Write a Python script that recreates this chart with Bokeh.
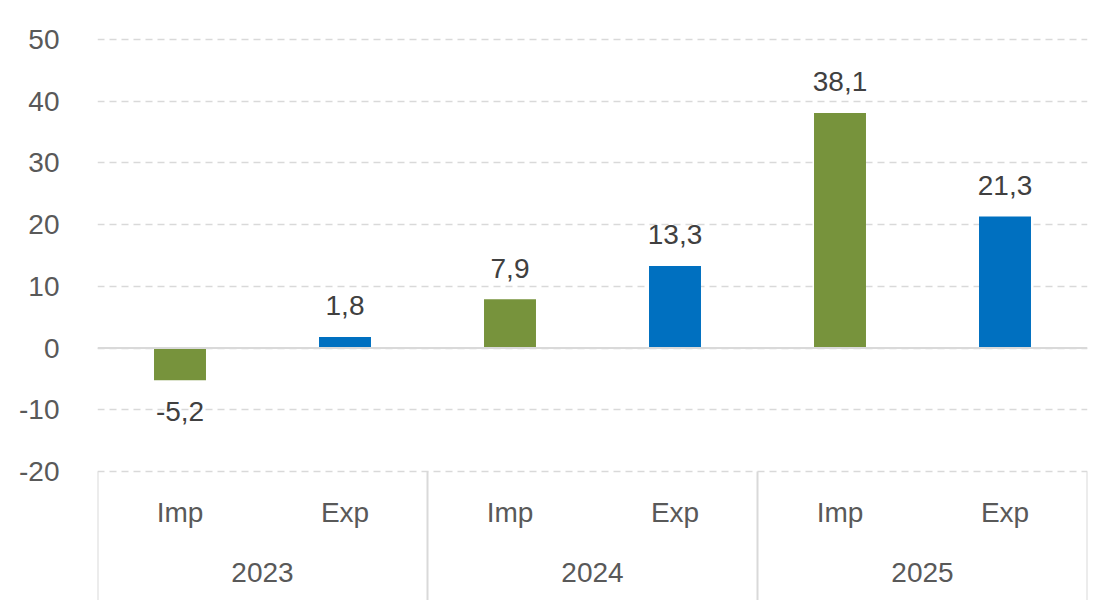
from bokeh.plotting import figure
from bokeh.models import FactorRange, Range1d, FixedTicker, Span, ColumnDataSource
from bokeh.embed import file_html
from bokeh.resources import INLINE
from bokeh.core.properties import value

years = ["2023", "2024", "2025"]
flows = ["Imp", "Exp"]
values = [-5.2, 1.8, 7.9, 13.3, 38.1, 21.3]
bar_colors = {"Imp": "#77933C", "Exp": "#0070C0"}
y_ticks = [-20, -10, 0, 10, 20, 30, 40, 50]

FONT = "Liberation Sans"
FS = "28px"

factors = [(y, f) for y in years for f in flows]
labels = [("%.1f" % v).replace(".", ",") for v in values]

src = ColumnDataSource(dict(
    x=factors,
    top=values,
    color=[bar_colors[f] for (_, f) in factors],
    label=labels,
))

scale = (471 - 39) / 70.0
y_end = 50 + 39 / scale
y_start = -20 - 129 / scale

p = figure(
    width=1111, height=600,
    x_range=FactorRange(*factors, group_padding=0, subgroup_padding=0, factor_padding=0, range_padding=0),
    y_range=Range1d(y_start, y_end),
    output_backend="svg", toolbar_location=None,
    min_border=0, min_border_left=97, min_border_right=24,
)
p.outline_line_color = None
p.background_fill_color = None
p.border_fill_color = "white"

p.xaxis.visible = False
p.xgrid.visible = False

yax = p.yaxis[0]
yax.ticker = FixedTicker(ticks=y_ticks)
yax.major_label_overrides = {t: str(t) for t in y_ticks}
yax.axis_line_color = None
yax.major_tick_line_color = None
yax.minor_tick_line_color = None
yax.major_label_standoff = 32
yax.major_label_text_font = FONT
yax.major_label_text_font_size = FS
yax.major_label_text_color = "#595959"

p.ygrid.ticker = FixedTicker(ticks=y_ticks)
p.ygrid.grid_line_color = "#d9d9d9"
p.ygrid.grid_line_width = 1.5
p.ygrid.grid_line_dash = "7 5"

p.add_layout(Span(location=0, dimension="width", line_color="#d9d9d9", line_width=2))

p.vbar(x="x", top="top", bottom=0, width=0.315, fill_color="color", line_color=None, source=src)

pos = ColumnDataSource(dict(x=[f for f, v in zip(factors, values) if v >= 0],
                            y=[v for v in values if v >= 0],
                            t=[l for l, v in zip(labels, values) if v >= 0]))
neg = ColumnDataSource(dict(x=[f for f, v in zip(factors, values) if v < 0],
                            y=[v for v in values if v < 0],
                            t=[l for l, v in zip(labels, values) if v < 0]))
p.text(x="x", y="y", text="t", source=pos, text_align="center", text_baseline="alphabetic",
       y_offset=-31, text_font=value(FONT), text_font_size=FS, text_color="#404040")
p.text(x="x", y="y", text="t", source=neg, text_align="center", text_baseline="alphabetic",
       y_offset=31, text_font=value(FONT), text_font_size=FS, text_color="#404040")

# category axis box
bottom = y_ticks[0]
sep_x = [(years[0], flows[0], -0.5)] + [(y, flows[-1], 0.5) for y in years]
p.segment(x0=sep_x, y0=[bottom] * len(sep_x), x1=sep_x, y1=[y_start] * len(sep_x),
          line_color="#d9d9d9", line_width=2)

p.text(x=factors, y=[bottom] * len(factors), text=[f for (_, f) in factors],
       text_align="center", text_baseline="middle", y_offset=41,
       text_font=value(FONT), text_font_size=FS, text_color="#595959")
p.text(x=[(y, flows[0], 0.5) for y in years], y=[bottom] * len(years), text=years,
       text_align="center", text_baseline="middle", y_offset=101,
       text_font=value(FONT), text_font_size=FS, text_color="#595959")

open("out.html", "w").write(file_html(p, INLINE))
